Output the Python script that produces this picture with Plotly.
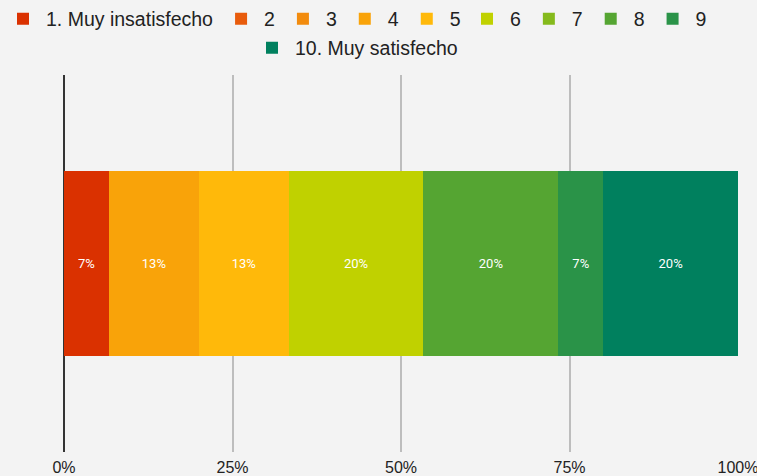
import plotly.graph_objects as go

categories = [""]
levels = ["1. Muy insatisfecho", "2", "3", "4", "5", "6", "7", "8", "9", "10. Muy satisfecho"]
counts = [1, 0, 0, 2, 2, 3, 0, 3, 1, 3]
colors = ["#DA3100", "#E85B0B", "#F28B0D", "#F9A309", "#FFB90A",
          "#C0D100", "#85BA1C", "#55A532", "#2A9348", "#00805E"]
legend_group = ["legend", "legend", "legend", "legend", "legend",
                "legend2", "legend2", "legend2", "legend2", "legend3"]
tick_vals = [0, 25, 50, 75, 100]
tick_text = ["0%", "25%", "50%", "75%", "100%"]

total = sum(counts)
fig = go.Figure()
for name, c, col, lg in zip(levels, counts, colors, legend_group):
    pct = 100.0 * c / total
    fig.add_trace(go.Bar(
        y=categories, x=[pct], name=name, orientation="h",
        marker=dict(color=col, line=dict(width=0)),
        text=[f"{pct:.0f}%" if c else ""],
        textposition="inside", insidetextanchor="middle",
        textfont=dict(family="Roboto", size=13, color="#FFFFFF"),
        hoverinfo="name+x", legend=lg,
    ))

legend_font = dict(family="Liberation Sans, Arial", size=19.5, color="#222222")
common = dict(orientation="h", xref="container", yref="container",
              xanchor="left", yanchor="middle", font=legend_font,
              traceorder="normal", itemwidth=36, bgcolor="rgba(0,0,0,0)")

fig.update_layout(
    barmode="stack",
    bargap=0.51,
    width=757, height=476,
    paper_bgcolor="#F3F3F3", plot_bgcolor="#F3F3F3",
    margin=dict(l=64, r=19, t=75, b=24, autoexpand=False),
    legend=dict(x=0.0, y=1 - 19 / 476, **common),
    legend2=dict(x=464 / 757, y=1 - 19 / 476, **common),
    legend3=dict(x=249 / 757, y=1 - 48 / 476, **common),
    xaxis=dict(range=[0, 100], tickvals=tick_vals, ticktext=tick_text,
               showgrid=True, gridcolor="#BDBDBD", gridwidth=2,
               zeroline=True, zerolinecolor="#333333", zerolinewidth=2,
               tickfont=dict(family="Liberation Sans, Arial", size=16, color="#222222"),
               ticklabeloverflow="allow", ticklabelstandoff=4,
               fixedrange=True),
    yaxis=dict(showticklabels=False, showgrid=False, zeroline=False, fixedrange=True),
    showlegend=True,
)
fig.write_html("out.html", config={"displayModeBar": False},
               post_script="document.body.style.margin='0';")
